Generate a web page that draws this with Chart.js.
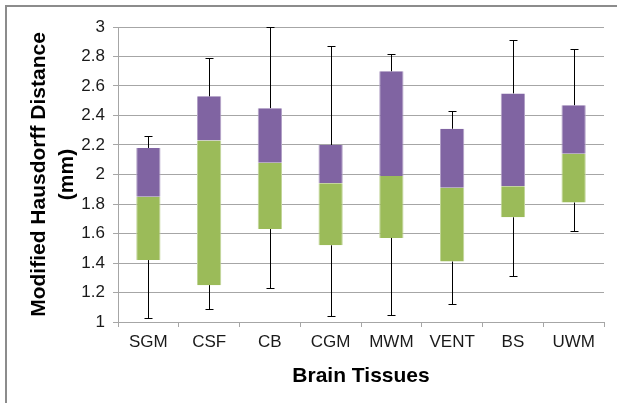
<!DOCTYPE html>
<html>
<head>
<meta charset="utf-8">
<script src="https://cdn.jsdelivr.net/npm/chart.js@4.4.0/dist/chart.umd.min.js"></script>
<style>
  html, body { margin: 0; padding: 0; background: #fff; overflow: hidden; }
  #wrap { position: relative; width: 617px; height: 403px; }
  #frame {
    position: absolute; left: 5px; top: 5px; width: 640px; height: 420px;
    border: 2px solid #8c8c8c; box-sizing: border-box;
  }
  canvas { position: absolute; left: 0; top: 0; }
</style>
</head>
<body>
<div id="wrap">
  <div id="frame"></div>
  <canvas id="boxChart" width="617" height="403"></canvas>
</div>
<script>
const tissues = ["SGM", "CSF", "CB", "CGM", "MWM", "VENT", "BS", "UWM"];
const minValues    = [1.03, 1.09, 1.23, 1.04, 1.05, 1.12, 1.31, 1.62];
const q1Values     = [1.42, 1.25, 1.63, 1.52, 1.57, 1.41, 1.71, 1.81];
const medianValues = [1.85, 2.23, 2.08, 1.94, 1.99, 1.91, 1.92, 2.14];
const q3Values     = [2.18, 2.53, 2.45, 2.20, 2.70, 2.31, 2.55, 2.47];
const maxValues    = [2.26, 2.79, 3.00, 2.87, 2.82, 2.43, 2.91, 2.85];
const yTicks = [1, 1.2, 1.4, 1.6, 1.8, 2, 2.2, 2.4, 2.6, 2.8, 3];

const fontFamily = "'Liberation Sans', Arial, sans-serif";

// whiskers: Q3 -> max and min -> Q1, with small caps
const whiskerPlugin = {
  id: "whiskers",
  afterDatasetsDraw(chart) {
    const { ctx, scales: { x, y } } = chart;
    ctx.save();
    ctx.strokeStyle = "#000";
    ctx.lineWidth = 1;
    tissues.forEach((_, i) => {
      const cx = Math.round(x.getPixelForValue(i)) + 0.5;
      const yMax = Math.round(y.getPixelForValue(maxValues[i])) + 0.5;
      const yQ3 = y.getPixelForValue(q3Values[i]);
      const yMin = Math.round(y.getPixelForValue(minValues[i])) + 0.5;
      const yQ1 = y.getPixelForValue(q1Values[i]);
      ctx.beginPath();
      ctx.moveTo(cx, yQ3); ctx.lineTo(cx, yMax);
      ctx.moveTo(cx - 4, yMax); ctx.lineTo(cx + 4, yMax);
      ctx.moveTo(cx, yQ1); ctx.lineTo(cx, yMin);
      ctx.moveTo(cx - 4, yMin); ctx.lineTo(cx + 4, yMin);
      ctx.stroke();
    });
    ctx.restore();
  }
};

const sideBorder = { left: 1, right: 1, top: 0, bottom: 0 };

new Chart(document.getElementById("boxChart"), {
  type: "bar",
  data: {
    labels: tissues,
    datasets: [
      {
        label: "Q1-Median",
        data: tissues.map((_, i) => [q1Values[i], medianValues[i]]),
        backgroundColor: "#9bbb59",
        borderColor: "#c3d69b",
        borderWidth: sideBorder,
        borderSkipped: false,
        grouped: false,
        barPercentage: 0.4,
        categoryPercentage: 1
      },
      {
        label: "Median-Q3",
        data: tissues.map((_, i) => [medianValues[i], q3Values[i]]),
        backgroundColor: "#8064a2",
        borderColor: "#b3a2c7",
        borderWidth: sideBorder,
        borderSkipped: false,
        grouped: false,
        barPercentage: 0.4,
        categoryPercentage: 1
      }
    ]
  },
  options: {
    responsive: false,
    animation: false,
    layout: { padding: { top: 27, left: 26, right: 13, bottom: 14 } },
    plugins: {
      legend: { display: false },
      tooltip: { enabled: false }
    },
    scales: {
      x: {
        grid: {
          offset: true,
          drawOnChartArea: false,
          drawTicks: true,
          tickLength: 5,
          color: "#a6a6a6"
        },
        border: { color: "#a6a6a6" },
        ticks: {
          color: "#1a1a1a",
          font: { family: fontFamily, size: 17 },
          padding: 5
        },
        title: {
          display: true,
          text: "Brain Tissues",
          color: "#000",
          font: { family: fontFamily, size: 21, weight: "bold" },
          padding: { top: 3, bottom: 0 }
        },
        afterFit(scale) { scale.height = 67; }
      },
      y: {
        min: 1,
        max: 3,
        afterBuildTicks(scale) {
          scale.ticks = yTicks.map((v) => ({ value: v }));
        },
        grid: {
          color: "#a6a6a6",
          tickLength: 5
        },
        border: { color: "#a6a6a6" },
        ticks: {
          color: "#1a1a1a",
          font: { family: fontFamily, size: 17 },
          padding: 8,
          callback: (v) => String(v)
        },
        title: {
          display: true,
          text: ["Modified Hausdorff Distance", "(mm)"],
          color: "#000",
          font: { family: fontFamily, size: 21, weight: "bold", lineHeight: 1.3 },
          padding: { top: 0, bottom: 0 }
        },
        afterFit(scale) { scale.width = 92; }
      }
    }
  },
  plugins: [whiskerPlugin]
});
</script>
</body>
</html>
